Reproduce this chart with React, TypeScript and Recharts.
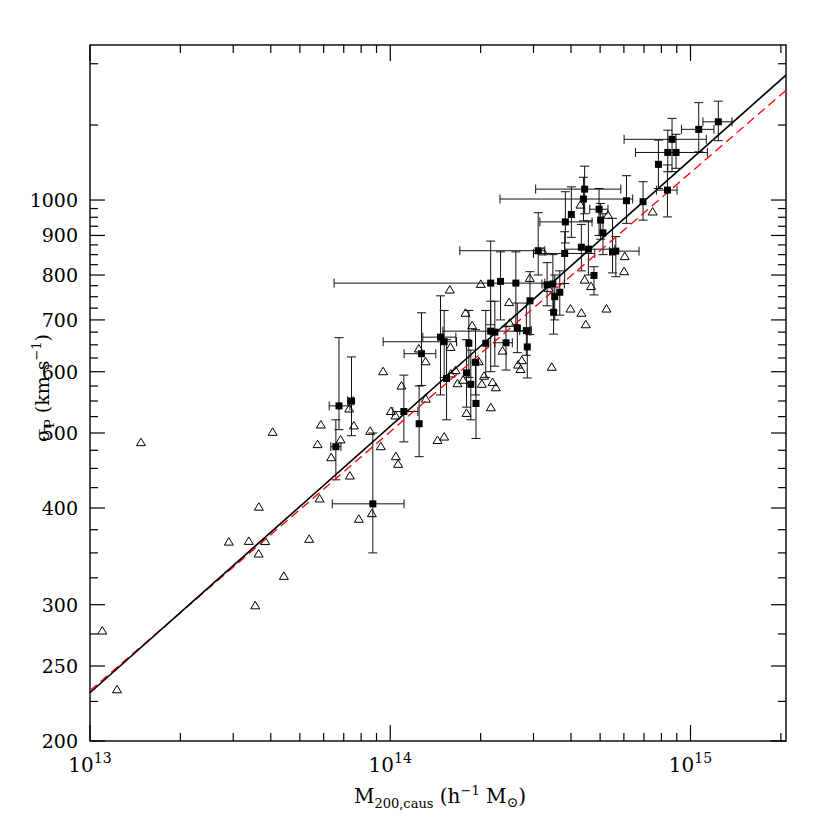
import React from 'react';
import { ScatterChart, Scatter, XAxis, YAxis, ErrorBar } from 'recharts';

// ---- layout (page pixels) ----
const PLOT = { left: 90, right: 786, top: 45, bottom: 741 };
const FONT = 'DejaVu Serif';

// ---- axis ticks ----
const massTicks = [0.1, 0.2, 0.3, 0.4, 0.5, 0.6, 0.7, 0.8, 0.9, 1, 2, 3, 4, 5, 6, 7, 8, 9, 10, 20];
const massTickLabels: { [k: string]: string } = { '0.1': '13', '1': '14', '10': '15' };
const sigmaTicks = [200, 225, 250, 275, 300, 325, 350, 375, 400, 425, 450, 475, 500, 525, 550, 575, 600, 625, 650, 675, 700, 725, 750, 775, 800, 825, 850, 875, 900, 925, 950, 975, 1000, 1250, 1500];
const sigmaTickLabels = [200, 250, 300, 400, 500, 600, 700, 800, 900, 1000];
const massDomain = [0.1, 20.8];
const sigmaDomain = [200, 1586];

// ---- clusters with error bars (mass in 1e14 h^-1 Msun, sigma in km/s) ----
const clusterMass = [12.38, 10.65, 8.68, 8.4, 8.95, 7.82, 8.38, 6.95, 6.12, 4.44, 4.4, 4.01, 3.83, 4.96, 5.02, 5.11, 4.33, 4.57, 3.81, 5.64, 5.5, 4.77, 3.33, 3.48, 3.53, 3.67, 3.5, 3.11, 2.16, 2.33, 2.62, 2.92, 2.65, 2.84, 2.86, 2.16, 2.23, 2.43, 2.08, 1.827, 1.512, 1.47, 1.271, 1.54, 1.795, 1.855, 1.93, 1.923, 1.11, 1.248, 0.743, 0.675, 0.659, 0.875];
const clusterSigma = [1262, 1234, 1198, 1152, 1152, 1112, 1030, 995, 998, 1033, 1003, 958, 937, 973, 942, 907, 869, 864, 853, 859, 857, 799, 777, 779, 750, 760, 716, 860, 781, 785, 781, 741, 683, 678, 646, 677, 675, 654, 653, 653, 656, 665, 633, 588, 598, 578, 546, 617, 533, 514, 550, 542, 480, 405];
const clusterMassLow = [11.0, 9.33, 6.01, 6.56, null, null, 7.7, null, null, 3.05, 2.32, null, 3.15, 4.62, null, null, null, 3.81, 3.0, 5.38, null, null, null, 3.2, null, null, null, 1.705, 0.65, null, null, null, null, 2.7, null, 1.497, null, 2.23, null, null, 0.947, 1.284, 1.112, null, null, null, null, null, 1.02, null, 0.721, 0.626, 0.634, 0.641];
const clusterMassHigh = [13.75, 11.97, 11.29, 11.38, null, null, 9.02, null, null, 5.86, 6.42, null, 4.7, 5.31, null, null, null, 5.6, 4.8, 6.74, null, null, null, 3.8, null, null, null, 3.27, 3.27, null, null, null, null, 2.95, null, 2.92, null, 2.55, null, null, 1.663, 1.654, 1.418, null, null, null, null, null, 1.236, null, 0.752, 0.734, 0.685, 1.112];
const clusterSigmaLow = [1193, 1154, 1088, 1088, 1099, 1035, 951, 942, 933, 960, 940, 895, 880, 900, 890, 850, 810, 800, 780, 796, 805, 754, 730, 720, 700, 710, 671, 800, 690, 700, 690, 670, 635, 630, 589, 600, 610, 603, 590, 590, 590, 560, 576, 520, 540, 520, 492, 560, 487, 466, 496, 505, 435, 350];
const clusterSigmaHigh = [1342, 1336, 1275, 1231, 1216, 1195, 1110, 1056, 1075, 1106, 1070, 1040, 1025, 1035, 990, 960, 930, 940, 910, 897, 947, 820, 830, 850, 800, 810, 758, 963, 885, 857, 857, 808, 736, 736, 683, 740, 740, 686, 720, 720, 720, 752, 715, 660, 660, 640, 616, 680, 594, 575, 627, 664, 520, 500];

// ---- systems without error bars (open triangles) ----
const fieldMass = [0.1099, 0.123, 0.1478, 0.29, 0.338, 0.3834, 0.3644, 0.355, 0.365, 0.4057, 0.4422, 0.537, 0.5816, 0.5874, 0.5728, 0.6359, 0.6832, 0.73, 0.7565, 0.7336, 0.786, 0.8684, 0.8572, 0.9304, 1.044, 1.062, 1.005, 1.041, 0.947, 1.09, 1.245, 1.311, 1.314, 1.579, 1.781, 1.874, 2.003, 1.587, 1.437, 1.512, 1.795, 2.054, 2.191, 2.247, 2.018, 2.162, 1.675, 1.748, 1.591, 1.65, 1.972, 2.915, 3.365, 4.3, 5.31, 6.04, 6.01, 7.48, 4.44, 4.665, 3.983, 4.333, 5.25, 4.479, 3.451, 2.488, 2.501, 2.365, 2.742, 2.715, 2.665, 3.228];
const fieldSigma = [277.4, 232.9, 485.9, 361.4, 362.2, 362, 348.8, 299, 401, 501, 326.4, 364.4, 410.9, 512, 483, 464.6, 489.8, 537, 510.6, 439.9, 386.8, 393.3, 502.5, 480, 466, 455.5, 533, 526, 600, 575, 642, 618, 553, 765, 714, 688, 778, 645, 489, 494, 530, 592, 581, 572, 578, 539, 579, 585, 596, 602, 618, 792, 769, 985, 955.6, 845, 808, 965, 788, 773, 723, 714, 723, 690, 608, 737, 693, 638, 620, 604, 612, 857];

// ---- fitted relations (end points) ----
const fitMass = [0.1, 20.8];
const fitSolidSigma = [230.9, 1450];
const fitDashedSigma = [232.3, 1386];

// ---- build series ----
const clusters = clusterMass.map((m, i) => {
  const s = clusterSigma[i];
  const lo = clusterMassLow[i];
  const hi = clusterMassHigh[i];
  return {
    m,
    s,
    sErr: [s - clusterSigmaLow[i], clusterSigmaHigh[i] - s],
    mErr: lo != null && hi != null ? [m - lo, hi - m] : null,
  };
});
const clustersX = clusters.filter((d) => d.mErr != null);
const clustersNoX = clusters.filter((d) => d.mErr == null);
const field = fieldMass.map((m, i) => ({ m, s: fieldSigma[i] }));
const solidLine = fitMass.map((m, i) => ({ m, s: fitSolidSigma[i] }));
const dashedLine = fitMass.map((m, i) => ({ m, s: fitDashedSigma[i] }));

// ---- shapes ----
const SquareShape = (p: any) => (
  <rect x={p.cx - 3.5} y={p.cy - 3.5} width={7} height={7} fill="#000" />
);
const TriangleShape = (p: any) => (
  <path
    d={`M${p.cx},${p.cy - 4.5} L${p.cx + 4.5},${p.cy + 3} L${p.cx - 4.5},${p.cy + 3} Z`}
    fill="none"
    stroke="#000"
    strokeWidth={1}
  />
);
const NoShape = () => <g />;

// ---- ticks ----
const XTick = (props: any) => {
  const { x, payload } = props;
  const exp = massTickLabels[String(payload.value)];
  const major = exp != null;
  const len = major ? 16 : 8;
  return (
    <g>
      <line x1={x} x2={x} y1={PLOT.bottom} y2={PLOT.bottom - len} stroke="#000" strokeWidth={1.2} />
      <line x1={x} x2={x} y1={PLOT.top} y2={PLOT.top + len} stroke="#000" strokeWidth={1.2} />
      {major && (
        <text x={x} y={PLOT.bottom + 31} textAnchor="middle" fontFamily={FONT} fontSize={20} fill="#000">
          10
          <tspan fontSize={14} dy={-9}>{exp}</tspan>
        </text>
      )}
    </g>
  );
};

const YTick = (props: any) => {
  const { y, payload } = props;
  const v = payload.value;
  const major = sigmaTickLabels.includes(v);
  const len = major ? 15 : 8;
  return (
    <g>
      <line x1={PLOT.left} x2={PLOT.left + len} y1={y} y2={y} stroke="#000" strokeWidth={1.2} />
      <line x1={PLOT.right} x2={PLOT.right - len} y1={y} y2={y} stroke="#000" strokeWidth={1.2} />
      {major && (
        <text x={PLOT.left - 12} y={y} dy="0.36em" textAnchor="end" fontFamily={FONT} fontSize={19} fill="#000">
          {v}
        </text>
      )}
    </g>
  );
};

const XTitle = () => (
  <g>
    <rect
      x={PLOT.left}
      y={PLOT.top}
      width={PLOT.right - PLOT.left}
      height={PLOT.bottom - PLOT.top}
      fill="none"
      stroke="#000"
      strokeWidth={1.4}
    />
    <text x={440} y={803} textAnchor="middle" fontFamily={FONT} fontSize={20} fill="#000">
      M
      <tspan fontSize={13} dy={5}>200,caus</tspan>
      <tspan dy={-5}>{'  (h'}</tspan>
      <tspan fontSize={13} dy={-8}>{'\u22121'}</tspan>
      <tspan dy={8}>{' M'}</tspan>
      <tspan fontSize={14} dy={4}>{'\u2299'}</tspan>
      <tspan dy={-4}>)</tspan>
    </text>
  </g>
);

const YTitle = () => (
  <text
    x={0}
    y={0}
    transform="translate(49, 388) rotate(-90)"
    textAnchor="middle"
    fontFamily={FONT}
    fontSize={19}
    fill="#000"
  >
    {'\u03c3'}
    <tspan fontSize={13} dx={1} dy={5}>P</tspan>
    <tspan dy={-5}>{'  (km s'}</tspan>
    <tspan fontSize={13} dy={-8}>{'\u22121'}</tspan>
    <tspan dy={8}>)</tspan>
  </text>
);

export default function App() {
  return (
    <div style={{ position: 'absolute', left: 0, top: 0, width: 830, height: 830, background: '#fff' }}>
      <ScatterChart width={830} height={830} margin={{ top: 45, right: 44, bottom: 29, left: 20 }}>
        <XAxis
          type="number"
          dataKey="m"
          scale="log"
          domain={massDomain}
          allowDataOverflow
          ticks={massTicks}
          interval={0}
          tickSize={0}
          tickMargin={0}
          tickLine={false}
          axisLine={false}
          tick={<XTick />}
          height={60}
          label={<XTitle />}
        />
        <YAxis
          type="number"
          dataKey="s"
          scale="log"
          domain={sigmaDomain}
          allowDataOverflow
          ticks={sigmaTicks}
          interval={0}
          tickSize={0}
          tickMargin={0}
          tickLine={false}
          axisLine={false}
          tick={<YTick />}
          width={70}
          label={<YTitle />}
        />
        <Scatter data={field} shape={<TriangleShape />} isAnimationActive={false} />
        <Scatter
          data={dashedLine}
          shape={<NoShape />}
          line={{ stroke: '#ff0000', strokeWidth: 1.3, strokeDasharray: '9 5' }}
          isAnimationActive={false}
        />
        <Scatter
          data={solidLine}
          shape={<NoShape />}
          line={{ stroke: '#000', strokeWidth: 1.6 }}
          isAnimationActive={false}
        />
        <Scatter data={clustersNoX} shape={<SquareShape />} isAnimationActive={false}>
          <ErrorBar dataKey="sErr" direction="y" width={4.5} stroke="#111" strokeWidth={1} />
        </Scatter>
        <Scatter data={clustersX} shape={<SquareShape />} isAnimationActive={false}>
          <ErrorBar dataKey="sErr" direction="y" width={4.5} stroke="#111" strokeWidth={1} />
          <ErrorBar dataKey="mErr" direction="x" width={4.5} stroke="#111" strokeWidth={1} />
        </Scatter>
      </ScatterChart>
    </div>
  );
}
